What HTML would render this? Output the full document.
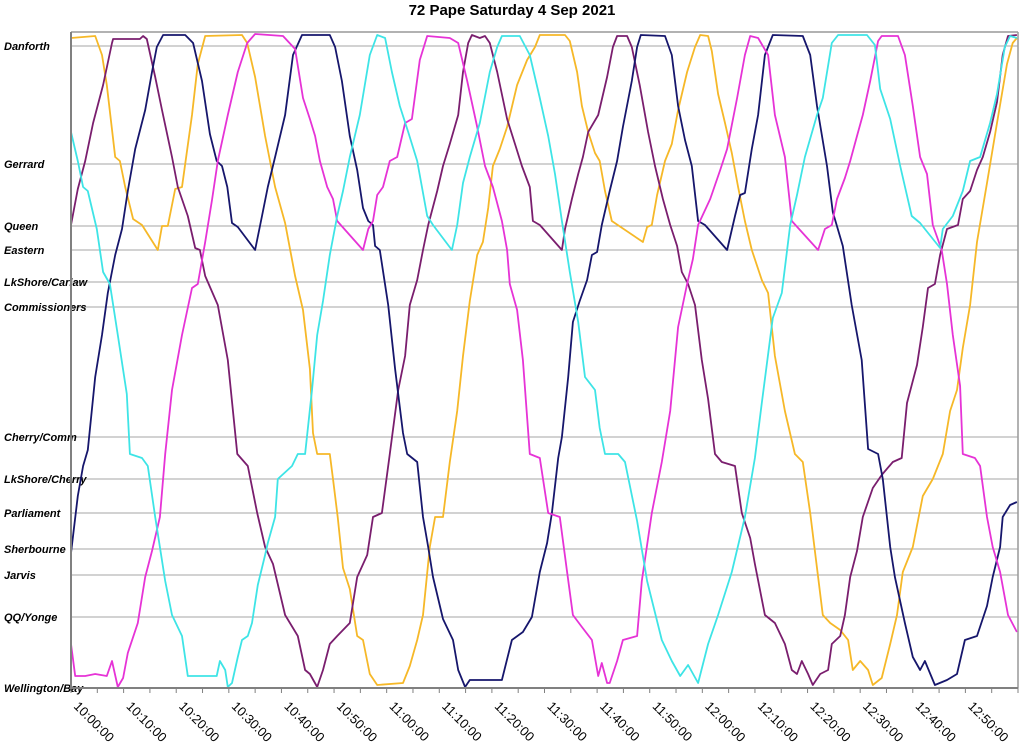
<!DOCTYPE html>
<html><head><meta charset="utf-8"><style>
html,body{margin:0;padding:0;background:#fff;}
svg{display:block;font-family:"Liberation Sans",sans-serif;}
</style></head><body>
<svg id="chart" width="1024" height="751" viewBox="0 0 1024 751" xmlns="http://www.w3.org/2000/svg">
<text x="512" y="15" text-anchor="middle" font-weight="bold" font-size="15" fill="#000">72 Pape Saturday 4 Sep 2021</text>
<g id="grid"></g>
<g id="ylabels"></g>
<g id="xaxis"></g>
<g id="series"></g>
<line x1="71" y1="32" x2="1018" y2="32" stroke="#999" stroke-width="1.5"/>
<line x1="1018" y1="32" x2="1018" y2="688" stroke="#999" stroke-width="1.5"/>
<line x1="71" y1="32" x2="71" y2="689" stroke="#808080" stroke-width="2"/>
<line x1="70" y1="688" x2="1018" y2="688" stroke="#808080" stroke-width="2"/>
</svg>
<script>
// stops: names and distance (m) from Danforth
const stopNames = ["Danforth","Gerrard","Queen","Eastern","LkShore/Carlaw","Commissioners","Cherry/Comm","LkShore/Cherry","Parliament","Sherbourne","Jarvis","QQ/Yonge","Wellington/Bay"];
const stopDist = [0,1180,1800,2040,2360,2610,3910,4330,4670,5030,5290,5710,6420];
// x ticks: minutes after 10:00
const tickMinutes = [0,10,20,30,40,50,60,70,80,90,100,110,120,130,140,150,160,170];
const tickLabels = ["10:00:00","10:10:00","10:20:00","10:30:00","10:40:00","10:50:00","11:00:00","11:10:00","11:20:00","11:30:00","11:40:00","11:50:00","12:00:00","12:10:00","12:20:00","12:30:00","12:40:00","12:50:00"];
// series: [minute, distance m]
const orangeRun = [[0,-80],[4.6,-100],[5.9,90],[6.8,390],[8.4,1110],[9.3,1150],[10.3,1410],[11.8,1730],[13.5,1790],[16.5,2040],[17.3,1800],[18.4,1800],[19.8,1430],[21.1,1410],[23.0,690],[24.1,180],[25.5,-100],[32.5,-110],[33.5,-30],[35.0,310],[36.9,900],[38.8,1410],[40.7,1770],[42.6,2300],[44.1,2640],[45.4,3230],[46.0,3870],[46.8,4080],[49.2,4080],[49.8,4330],[50.7,4710],[51.7,5220],[53.0,5430],[54.4,5900],[55.5,5940],[56.8,6280],[58.2,6390],[63.1,6370],[64.4,6200],[65.8,5940],[66.9,5690],[68.2,5010],[69.2,4710],[70.7,4710],[72.0,4160],[73.4,3650],[74.5,3100],[75.8,2550],[77.2,2090],[78.3,1960],[79.3,1620],[80.2,1200],[81.5,1030],[82.9,810],[84.8,390],[86.7,140],[88.2,10],[89.1,-110],[93.9,-110],[94.8,-50],[96.2,260],[97.1,600],[98.3,860],[99.6,1070],[100.5,1150],[101.5,1450],[102.8,1750],[108.7,1960],[109.5,1810],[110.4,1790],[111.4,1490],[112.9,1150],[114.2,980],[115.4,640],[117.1,260],[118.6,10],[119.6,-110],[121.1,-100],[121.8,50],[123.0,480],[124.3,770],[125.6,1070],[126.8,1410],[128.1,1750],[129.4,2040],[131.3,2340],[132.5,2470],[133.8,3100],[135.7,3650],[137.6,4080],[139.1,4160],[140.5,4670],[141.8,5220],[142.9,5690],[144.3,5770],[146.2,5840],[147.7,5940],[148.6,6240],[150.0,6150],[151.5,6240],[152.4,6390],[154.1,6320],[155.7,5980],[157.0,5690],[158.1,5260],[160.0,5010],[161.9,4500],[163.8,4330],[165.7,4080],[167.1,3650],[168.4,3440],[169.5,3020],[170.9,2590],[172.2,1960],[174.1,1370],[176.0,770],[177.9,180],[179.0,-30],[179.8,-80]];
const purpleRun = [[0,1790],[1.3,1430],[2.7,1150],[4.2,770],[6.1,390],[7.8,-30],[8.0,-70],[13.1,-70],[13.7,-100],[14.4,-70],[16.0,310],[17.3,640],[19.2,1110],[20.3,1410],[22.2,1700],[23.6,2020],[24.5,2040],[25.5,2300],[27.9,2590],[29.8,3140],[31.6,4080],[33.6,4200],[35.4,4670],[36.9,5010],[38.4,5180],[40.7,5690],[43.1,5900],[44.5,6240],[45.4,6280],[46.8,6410],[47.9,6240],[49.2,5980],[50.6,5900],[53.0,5770],[54.4,5310],[56.3,5090],[57.4,4710],[59.1,4670],[60.6,4080],[62.2,3440],[63.5,3100],[64.4,2590],[65.8,2340],[66.9,2040],[67.9,1790],[69.6,1450],[70.7,1200],[72.0,980],[73.6,690],[74.5,260],[75.5,-30],[76.2,-110],[77.7,-80],[78.7,-100],[79.6,-30],[81.0,260],[82.9,730],[84.4,980],[85.7,1200],[87.2,1410],[87.8,1750],[89.1,1790],[93.3,2040],[93.9,1830],[95.2,1530],[96.4,1280],[97.3,1110],[98.3,860],[100.2,690],[101.9,310],[103.0,10],[103.8,-100],[105.7,-100],[106.6,10],[108.1,390],[109.7,860],[111.0,1200],[112.5,1530],[113.9,1790],[115.2,2000],[116.1,2260],[117.3,2380],[118.6,2590],[119.9,3140],[121.1,3530],[122.4,4080],[123.7,4160],[126.2,4200],[127.5,4670],[129.1,4920],[130.0,5180],[131.9,5690],[133.8,5770],[135.7,5980],[137.0,6240],[138.0,6280],[138.9,6150],[140.1,6280],[141.0,6390],[142.4,6280],[143.9,6240],[144.6,5980],[146.2,5900],[147.1,5690],[148.1,5310],[149.4,5050],[150.5,4710],[152.4,4420],[154.1,4290],[156.2,4160],[157.9,4120],[158.9,3570],[160.8,3190],[161.9,2810],[162.9,2420],[164.2,2380],[165.2,2090],[166.5,1830],[168.6,1790],[169.5,1530],[170.9,1450],[172.2,1240],[173.3,1110],[174.7,860],[176.0,560],[177.1,90],[178.1,-100],[179.8,-110]];
const navyRun = [[0,5070],[1.3,4500],[2.3,4200],[3.2,4040],[4.6,3310],[5.9,2890],[7.0,2470],[8.4,2090],[9.7,1830],[10.8,1450],[12.2,1030],[14.1,640],[15.4,260],[16.3,10],[17.5,-110],[21.7,-110],[23.2,-30],[24.9,350],[26.4,880],[27.7,1150],[28.7,1200],[29.7,1410],[30.6,1770],[31.7,1810],[35.0,2040],[36.3,1700],[37.4,1410],[38.8,1110],[40.7,690],[42.2,90],[43.9,-110],[49.2,-110],[50.2,10],[51.5,350],[53.0,900],[54.4,1240],[55.5,1620],[56.5,1750],[57.4,1790],[57.8,2000],[58.7,2040],[60.3,2590],[61.6,3230],[63.1,3870],[63.9,4080],[65.8,4160],[66.9,4710],[67.9,5010],[68.8,5310],[70.7,5730],[72.6,5940],[73.6,6240],[74.9,6410],[75.8,6340],[81.9,6340],[83.8,5940],[85.9,5860],[87.6,5710],[89.1,5260],[90.5,4970],[91.4,4670],[92.6,4120],[93.3,3910],[94.5,3310],[95.4,2760],[96.7,2550],[98.1,2340],[99.0,2090],[100.0,2060],[100.9,1790],[102.4,1450],[103.8,1150],[104.9,810],[106.6,350],[107.6,10],[108.3,-110],[112.9,-100],[114.2,90],[115.4,600],[116.7,940],[118.0,1200],[119.2,1750],[120.5,1790],[124.7,2040],[126.2,1700],[127.2,1490],[128.1,1470],[129.4,1030],[130.6,690],[131.9,90],[133.4,-110],[139.1,-100],[140.5,90],[141.8,600],[143.7,1200],[144.8,1660],[146.7,2000],[148.4,2590],[150.3,3140],[151.5,4030],[153.4,4080],[154.3,4330],[155.7,5010],[156.6,5310],[158.5,5770],[160.0,6110],[161.4,6240],[162.3,6150],[164.2,6390],[166.5,6340],[168.4,6280],[169.9,5940],[172.2,5900],[174.1,5600],[175.2,5310],[176.6,5010],[177.1,4710],[178.5,4590],[179.8,4560]];
const magentaRun = [[0,5980],[0.8,6300],[2.7,6300],[4.6,6280],[6.8,6300],[7.8,6150],[8.9,6410],[9.9,6320],[10.8,6070],[12.7,5770],[14.1,5310],[15.4,5050],[16.9,4710],[17.9,4080],[19.2,3440],[21.1,2890],[23.0,2420],[24.1,2380],[25.5,1960],[26.8,1540],[27.9,1150],[29.8,690],[31.7,260],[33.5,-30],[35.0,-120],[40.3,-100],[42.6,30],[44.1,520],[45.4,730],[46.4,900],[47.3,1150],[48.7,1410],[49.8,1530],[50.6,1750],[55.5,2040],[56.5,1830],[57.4,1750],[58.2,1490],[59.3,1410],[60.6,1150],[62.0,1110],[63.5,770],[64.8,730],[66.3,140],[67.7,-100],[72.0,-80],[73.6,-30],[75.3,350],[77.2,810],[78.7,1200],[80.2,1410],[81.9,1750],[82.9,2040],[83.4,2380],[84.8,2640],[85.9,3140],[87.2,4080],[89.1,4120],[90.7,4670],[92.9,4710],[94.3,5260],[95.4,5690],[97.1,5810],[99.0,5940],[100.2,6300],[100.9,6170],[101.9,6370],[102.4,6370],[103.8,6150],[104.9,5940],[107.6,5900],[108.5,5350],[110.4,4670],[112.3,4160],[113.9,3650],[115.4,2810],[117.1,2380],[118.2,2130],[119.2,1790],[121.5,1530],[123.4,1240],[124.7,1030],[126.6,520],[128.1,90],[129.1,-100],[130.6,-80],[132.5,90],[133.8,690],[135.7,1110],[137.0,1750],[142.0,2040],[143.3,1830],[144.6,1790],[145.6,1530],[147.1,1320],[148.1,1150],[149.4,900],[150.5,690],[151.9,350],[153.4,-50],[154.1,-100],[157.2,-100],[158.5,90],[160.0,600],[161.4,1110],[162.7,1280],[163.8,1790],[165.5,2040],[166.5,2380],[167.6,2890],[169.0,3400],[169.5,4080],[171.8,4120],[172.8,4200],[174.1,4710],[175.2,5010],[176.6,5260],[178.1,5690],[179.8,5860]];
const cyanRun = [[0,860],[1.3,1150],[2.3,1410],[3.2,1450],[4.9,1830],[6.1,2260],[7.4,2380],[8.9,2890],[10.6,3480],[11.2,4080],[13.5,4120],[14.6,4200],[16.0,4710],[17.9,5350],[19.2,5690],[21.1,5900],[22.2,6300],[27.7,6300],[28.3,6150],[29.3,6240],[29.8,6410],[30.6,6370],[31.7,6110],[32.5,5940],[33.6,5900],[34.4,5770],[35.5,5390],[36.9,5090],[37.4,4970],[38.8,4710],[39.3,4330],[42.0,4200],[43.1,4080],[44.5,4080],[45.8,3440],[46.8,2890],[47.9,2550],[49.2,2090],[50.6,1700],[51.7,1450],[53.0,1110],[54.9,690],[56.8,90],[58.2,-110],[59.7,-80],[61.0,260],[62.5,600],[64.1,860],[65.8,1150],[67.7,1700],[68.8,1790],[72.4,2040],[73.4,1790],[74.5,1370],[75.8,1110],[77.7,770],[79.6,260],[81.0,10],[81.9,-100],[85.3,-100],[87.2,90],[89.1,520],[90.7,900],[92.0,1280],[93.3,1750],[94.8,2260],[96.4,2760],[97.7,3310],[99.6,3440],[100.5,3820],[101.5,4080],[104.0,4080],[105.3,4160],[107.6,4750],[109.5,5350],[112.3,5940],[114.2,6150],[115.8,6300],[117.3,6190],[119.2,6370],[121.1,5980],[123.0,5690],[125.6,5260],[128.1,4710],[130.0,4120],[131.3,3570],[133.4,2720],[135.1,2470],[136.7,1790],[138.0,1490],[139.5,1110],[141.8,690],[142.9,520],[144.6,-30],[145.8,-110],[151.3,-110],[152.8,-10],[153.8,430],[155.7,730],[157.6,1200],[159.8,1700],[161.4,1770],[165.2,2020],[165.7,1830],[167.6,1700],[169.5,1450],[170.9,1150],[172.8,1110],[174.7,770],[176.0,480],[177.5,10],[178.5,-100],[179.8,-80]];

const X0=71, X1=1018, T0=0, T1=180;
const Y0=32, Y1=688, D0=-140, D1=6420;
function xScale(t){return X0+(t-T0)/(T1-T0)*(X1-X0);}
function yScale(d){return Y0+(d-D0)/(D1-D0)*(Y1-Y0);}
const NS="http://www.w3.org/2000/svg";
function mk(tag,attrs,parent){const e=document.createElementNS(NS,tag);for(const k in attrs)e.setAttribute(k,attrs[k]);parent.appendChild(e);return e;}

const grid=document.getElementById('grid'), yl=document.getElementById('ylabels');
stopNames.forEach((n,i)=>{
  const y=yScale(stopDist[i]);
  if(i<stopNames.length-1){
    const l=mk('line',{x1:X0,x2:X1,y1:y,y2:y,stroke:'#a6a6a6','stroke-width':1},grid);
    
    
  }
  const t=mk('text',{x:4,y:y+4,'font-size':11,'font-weight':'bold','font-style':'italic',fill:'#000'},yl);
  t.textContent=n;
  
  
});
const xa=document.getElementById('xaxis');
for(let m=0;m<=180;m+=5){
  const x=xScale(m);
  const tk=mk('line',{x1:x,x2:x,y1:688,y2:693,stroke:'#808080','stroke-width':1},xa);
  
  
}
tickMinutes.forEach((m,i)=>{
  const x=xScale(m);
  const t=mk('text',{x:x+2,y:707,'font-size':13,fill:'#000',transform:`rotate(45 ${x+2} 707)`},xa);
  t.textContent=tickLabels[i];
  
  
});
const seriesList=[[orangeRun,'#f6b828','orange'],[purpleRun,'#7a1e6e','purple'],[navyRun,'#16166c','navy'],[magentaRun,'#e633d6','magenta'],[cyanRun,'#3ee4e6','cyan']];
const sg=document.getElementById('series');
seriesList.forEach(([data,col,name])=>{
  const d=data.map((p,i)=>(i?'L':'M')+xScale(p[0]).toFixed(1)+','+yScale(p[1]).toFixed(1)).join('');
  const p=mk('path',{d:d,fill:'none',stroke:col,'stroke-width':1.8,'stroke-linejoin':'round'},sg);
  
  
});
</script>
</body></html>
